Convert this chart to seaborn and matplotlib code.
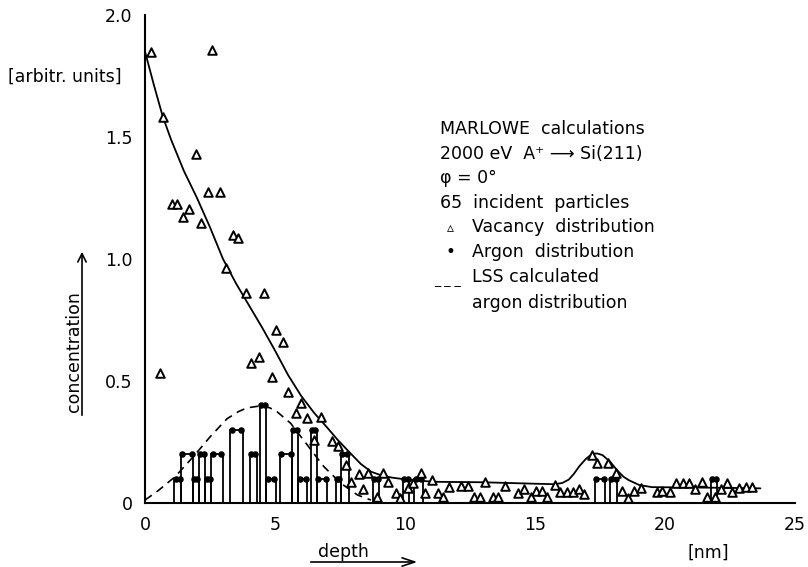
import matplotlib
matplotlib.use("Agg")
import matplotlib.pyplot as plt
import seaborn as sns
import pandas as pd

# ---------------- data ----------------
vac_depth = [0.23, 2.57, 0.68, 1.97, 2.44, 2.90, 1.03, 1.22, 1.69, 1.48,
             2.15, 3.37, 3.58, 3.13, 3.89, 4.56, 5.05, 5.32, 4.38, 4.09,
             4.88, 5.51, 0.58, 6.01, 5.79, 6.24, 6.76, 6.50, 7.21, 7.42,
             7.72, 8.24, 8.58, 7.92, 8.37, 9.14, 9.33, 8.92, 9.65, 9.82,
             10.10, 10.30, 10.62, 10.75, 11.04, 11.26, 11.48, 11.71, 12.16, 12.44,
             12.67, 12.87, 13.06, 13.38, 13.58, 13.83, 14.35, 14.57, 14.84, 15.02,
             15.25, 15.47, 15.76, 15.98, 16.22, 16.45, 16.69, 16.90, 17.18, 17.39,
             17.80, 18.11, 18.34, 18.57, 18.81, 19.09, 19.69, 19.88, 20.20, 20.42,
             20.68, 20.94, 21.17, 21.43, 21.62, 21.94, 22.14, 22.40, 22.59, 22.85,
             23.11, 23.36]
vac_conc = [1.849, 1.857, 1.583, 1.430, 1.275, 1.275, 1.225, 1.225, 1.205, 1.174,
            1.146, 1.097, 1.085, 0.962, 0.859, 0.859, 0.710, 0.659, 0.600, 0.575,
            0.518, 0.456, 0.534, 0.411, 0.368, 0.347, 0.354, 0.258, 0.254, 0.235,
            0.156, 0.118, 0.124, 0.085, 0.056, 0.124, 0.087, 0.026, 0.040, 0.022,
            0.060, 0.080, 0.124, 0.040, 0.094, 0.040, 0.026, 0.067, 0.070, 0.070,
            0.023, 0.023, 0.087, 0.023, 0.023, 0.071, 0.040, 0.057, 0.026, 0.050,
            0.050, 0.023, 0.074, 0.046, 0.046, 0.044, 0.057, 0.037, 0.197, 0.165,
            0.165, 0.124, 0.050, 0.022, 0.050, 0.060, 0.046, 0.050, 0.046, 0.080,
            0.080, 0.080, 0.057, 0.087, 0.026, 0.026, 0.057, 0.083, 0.046, 0.060,
            0.064, 0.064]

fit_depth = [0.0, 0.35, 0.68, 1.0, 1.5, 2.0, 2.5, 3.0, 3.5, 4.0, 4.5, 5.0, 5.5,
             6.0, 6.5, 7.0, 7.4, 7.8, 8.3, 8.7, 9.1, 9.5, 10.0, 10.5, 11.1, 12.0,
             13.0, 14.0, 15.0, 15.75, 16.05, 16.3, 16.5, 16.7, 16.95, 17.2, 17.4,
             17.6, 17.9, 18.15, 18.4, 18.6, 19.0, 19.5, 20.5, 21.5, 22.5, 23.67]
fit_conc = [1.85, 1.71, 1.585, 1.49, 1.36, 1.25, 1.13, 1.00, 0.90, 0.81, 0.72,
            0.625, 0.525, 0.44, 0.37, 0.31, 0.26, 0.215, 0.16, 0.128, 0.113,
            0.104, 0.097, 0.092, 0.087, 0.086, 0.085, 0.082, 0.079, 0.077, 0.082,
            0.096, 0.12, 0.15, 0.18, 0.202, 0.203, 0.196, 0.168, 0.135, 0.108,
            0.094, 0.074, 0.065, 0.064, 0.063, 0.062, 0.060]

lss_depth = [0.0, 0.5, 1.16, 1.86, 2.51, 3.15, 3.6, 3.93, 4.44, 4.8, 5.08, 5.6,
             6.24, 6.88, 7.53, 8.17, 8.69]
lss_conc = [0.012, 0.05, 0.108, 0.19, 0.272, 0.345, 0.375, 0.390, 0.398, 0.39,
            0.374, 0.327, 0.238, 0.149, 0.081, 0.033, 0.012]

ar_left = [1.13, 1.38, 1.84, 2.06, 2.32, 2.55, 3.28, 4.03, 4.41, 4.67, 5.19,
           5.66, 5.90, 6.37, 6.60, 7.34, 7.53, 8.75, 9.91, 10.36, 17.31, 17.89, 21.75]
ar_right = [1.38, 1.84, 2.06, 2.32, 2.55, 2.99, 3.76, 4.29, 4.67, 5.02, 5.66,
            5.90, 6.24, 6.60, 7.01, 7.53, 7.83, 9.01, 10.17, 10.68, 17.70, 18.15, 22.01]
ar_height = [0.1, 0.2, 0.1, 0.2, 0.1, 0.2, 0.3, 0.2, 0.4, 0.1, 0.2,
             0.3, 0.1, 0.3, 0.1, 0.1, 0.2, 0.1, 0.1, 0.1, 0.1, 0.1, 0.1]

x_ticks = [0, 5, 10, 15, 20, 25]
x_tick_labels = ["0", "5", "10", "15", "20", "25"]
y_ticks = [0, 0.5, 1.0, 1.5, 2.0]
y_tick_labels = ["0", "0.5", "1.0", "1.5", "2.0"]

legend_lines = ["MARLOWE  calculations",
                "2000 eV  A\u207a \u27f6 Si(211)",
                "\u03c6 = 0\u00b0",
                "65  incident  particles"]
legend_items = ["Vacancy  distribution", "Argon  distribution",
                "LSS calculated", "argon distribution"]

# ---------------- figure ----------------
sns.set_style("white")
plt.rcParams['font.family'] = ['DejaVu Sans']
plt.rcParams['text.color'] = 'black'
plt.rcParams['axes.labelcolor'] = 'black'
plt.rcParams['xtick.color'] = 'black'
plt.rcParams['ytick.color'] = 'black'
W, H = 808, 567
fig = plt.figure(figsize=(W / 100, H / 100), dpi=100)
ax = fig.add_axes([145 / W, 1 - 503 / H, (795 - 145) / W, (503 - 15) / H])

def fx(px):
    return px / W

def fy(py):
    return 1 - py / H

# argon histogram bars
bars = pd.DataFrame({"left": ar_left, "right": ar_right, "h": ar_height})
bars["w"] = bars["right"] - bars["left"]
ax.bar(bars["left"], bars["h"], width=bars["w"], align="edge", fill=False,
       edgecolor="black", linewidth=1.3, zorder=2)
dots = pd.DataFrame({"x": list(bars["left"] + 0.05) + list(bars["right"] - 0.05),
                     "y": list(bars["h"]) * 2})
sns.scatterplot(data=dots, x="x", y="y", ax=ax, color="black", s=22,
                edgecolor="black", linewidth=0, zorder=3, legend=False)

# fitted vacancy curve
fit = pd.DataFrame({"x": fit_depth, "y": fit_conc})
sns.lineplot(data=fit, x="x", y="y", ax=ax, sort=False, estimator=None,
             color="black", linewidth=1.3, zorder=4)
# LSS dashed curve
lss = pd.DataFrame({"x": lss_depth, "y": lss_conc})
sns.lineplot(data=lss, x="x", y="y", ax=ax, sort=False, estimator=None,
             color="black", linewidth=1.2, linestyle=(0, (5, 3.5)), zorder=4)
# vacancy triangles
vac = pd.DataFrame({"x": vac_depth, "y": vac_conc})
sns.scatterplot(data=vac, x="x", y="y", ax=ax, marker="^", s=38,
                facecolor="white", edgecolor="black", linewidth=1.4,
                zorder=5, legend=False)

ax.set_xlim(0, 25)
ax.set_ylim(0, 2.0)
ax.set_xticks(x_ticks)
ax.set_xticklabels(x_tick_labels)
ax.set_yticks(y_ticks)
ax.set_yticklabels(y_tick_labels)
ax.set_xlabel("")
ax.set_ylabel("")
for s in ["top", "right"]:
    ax.spines[s].set_visible(False)
for s in ["left", "bottom"]:
    ax.spines[s].set_linewidth(1.5)
    ax.spines[s].set_color("black")
ax.tick_params(direction="in", length=7, width=1.3, labelsize=12.5,
               colors="black")
ax.tick_params(axis="y", pad=9)
ax.tick_params(axis="x", pad=9)

# axis annotations
fs = 12.5
fig.text(fx(65), fy(77), "[arbitr. units]", ha="center", va="center", fontsize=fs)
fig.text(fx(74), fy(352), "concentration", rotation=90, ha="center",
         va="center", fontsize=fs)
fig.patches.append(matplotlib.patches.FancyArrowPatch(
    (fx(82), fy(418)), (fx(82), fy(249)), transform=fig.transFigure,
    arrowstyle="->,head_length=6,head_width=3", color="black", lw=1.2,
    mutation_scale=1))
fig.text(fx(343), fy(552), "depth", ha="center", va="center", fontsize=fs)
fig.patches.append(matplotlib.patches.FancyArrowPatch(
    (fx(308), fy(562)), (fx(420), fy(562)), transform=fig.transFigure,
    arrowstyle="->,head_length=9,head_width=3", color="black", lw=1.2,
    mutation_scale=1))
fig.text(fx(708), fy(553), "[nm]", ha="center", va="center", fontsize=fs)

# text block
rows_y = [129, 154, 178, 203]
for t, yy in zip(legend_lines, rows_y):
    fig.text(fx(440), fy(yy), t, ha="left", va="center", fontsize=fs)
item_y = [227, 252, 277, 303]
for t, yy in zip(legend_items, item_y):
    fig.text(fx(472), fy(yy), t, ha="left", va="center", fontsize=fs)
fig.text(fx(450), fy(228), "\u25b5", ha="center", va="center", fontsize=10)
fig.text(fx(450), fy(252), "\u2022", ha="center", va="center", fontsize=12)
fig.text(fx(447), fy(280), "_ _ _", ha="center", va="center", fontsize=9)

fig.savefig("out.png", dpi=100)
